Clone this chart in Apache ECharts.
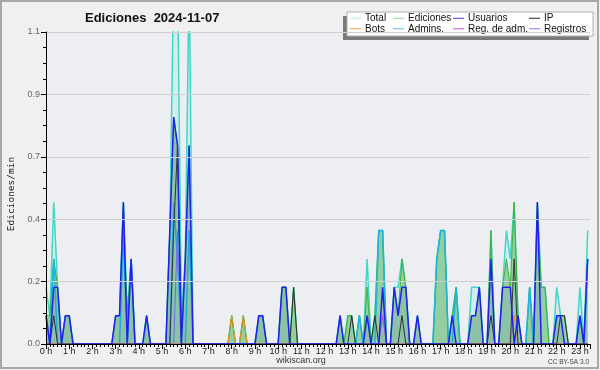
<!DOCTYPE html>
<html><head><meta charset="utf-8">
<script src="https://cdn.jsdelivr.net/npm/echarts@6/dist/echarts.min.js"></script>
<style>html,body{margin:0;padding:0;background:#f0f0f0}#c{width:600px;height:370px}</style>
</head><body><div id="c"></div>
<script>
// 10-minute bins from 0:00 (index 0) to 23:20 (index 140), values in edits/min
const hourLabels = ['0 h','1 h','2 h','3 h','4 h','5 h','6 h','7 h','8 h','9 h','10 h','11 h','12 h','13 h','14 h','15 h','16 h','17 h','18 h','19 h','20 h','21 h','22 h','23 h'];
const total = [
0.2,0.1,0.5,0.2,0,0.1, 0.1,0,0,0,0,0, 0,0,0,0,0,0, 0.1,0.1,0.5,0.1,0.3,0,
0,0,0.1,0,0,0, 0,0,0.4,1.3,1.3,0.1, 0.3,1.3,0,0,0,0, 0,0,0,0,0,0,
0.1,0,0,0.1,0,0, 0,0.1,0.1,0,0,0, 0,0.2,0.2,0,0.2,0, 0,0,0,0,0,0,
0,0,0,0,0.1,0, 0.1,0.1,0,0.1,0,0.3, 0,0.1,0.4,0.4,0,0, 0.2,0.2,0.3,0.2,0,0,
0.1,0,0,0,0,0.3, 0.4,0.4,0,0.1,0.2,0, 0,0,0.2,0.2,0.2,0, 0,0.4,0,0,0.2,0.4,
0.3,0.5,0.1,0,0,0.2, 0,0.5,0.2,0.2,0,0, 0.2,0.1,0.1,0,0,0, 0.2,0,0.4
];
const ediciones = [
0.1,0.1,0.3,0.2,0,0.1, 0.1,0,0,0,0,0, 0,0,0,0,0,0, 0.1,0.1,0.5,0.1,0.3,0,
0,0,0.1,0,0,0, 0,0,0.4,0.8,0.7,0, 0.3,0.7,0,0,0,0, 0,0,0,0,0,0,
0.1,0,0,0.1,0,0, 0,0.1,0.1,0,0,0, 0,0.2,0.2,0,0.2,0, 0,0,0,0,0,0,
0,0,0,0,0.1,0, 0.1,0.1,0,0.1,0,0.2, 0,0.1,0.4,0.4,0,0, 0.2,0.1,0.3,0.2,0,0,
0.1,0,0,0,0,0.3, 0.4,0.4,0,0.1,0.2,0, 0,0,0.1,0.1,0.2,0, 0,0.4,0,0,0.2,0.3,
0.2,0.5,0.1,0,0,0.2, 0,0.5,0.2,0.2,0,0, 0.1,0.1,0.1,0,0,0, 0.1,0,0.3
];
const usuarios = [
0.1,0,0.2,0.2,0,0.1, 0.1,0,0,0,0,0, 0,0,0,0,0,0, 0.1,0.1,0.5,0,0.3,0,
0,0,0.1,0,0,0, 0,0,0.4,0.8,0.7,0, 0.3,0.7,0,0,0,0, 0,0,0,0,0,0,
0,0,0,0,0,0, 0,0.1,0.1,0,0,0, 0,0.2,0.2,0,0,0, 0,0,0,0,0,0,
0,0,0,0,0.1,0, 0,0,0,0,0,0.1, 0,0,0,0.2,0,0, 0.2,0.1,0.2,0.2,0,0,
0.1,0,0,0,0,0, 0,0,0,0.1,0,0, 0,0,0.1,0.1,0.2,0, 0,0.3,0,0,0.2,0.2,
0.2,0,0.1,0,0,0, 0,0.5,0,0,0,0, 0.1,0.1,0,0,0,0, 0.1,0,0.3
];
const ip = [
0,0,0.1,0,0,0, 0,0,0,0,0,0, 0,0,0,0,0,0, 0,0,0,0,0,0,
0,0,0,0,0,0, 0,0,0,0.4,0.7,0, 0,0,0,0,0,0, 0,0,0,0,0,0,
0,0,0,0,0,0, 0,0,0,0,0,0, 0,0,0,0,0.2,0, 0,0,0,0,0,0,
0,0,0,0,0,0, 0,0.1,0,0,0,0, 0,0.1,0,0,0,0, 0,0,0.1,0,0,0,
0,0,0,0,0,0, 0,0,0,0,0,0, 0,0,0,0,0,0, 0,0.1,0,0,0,0,
0,0.3,0,0,0,0, 0,0,0,0,0,0, 0,0.1,0.1,0,0,0, 0,0,0
];
const bots = [
0,0,0,0,0,0, 0,0,0,0,0,0, 0,0,0,0,0,0, 0,0,0,0,0,0,
0,0,0,0,0,0, 0,0,0,0,0,0, 0,0,0,0,0,0, 0,0,0,0,0,0,
0.1,0,0,0.1,0,0, 0,0,0,0,0,0, 0,0,0,0,0,0, 0,0,0,0,0,0,
0,0,0,0,0,0, 0,0,0,0,0,0, 0,0,0,0,0,0, 0,0,0,0,0,0,
0,0,0,0,0,0, 0,0,0,0,0,0, 0,0,0,0,0,0, 0,0,0,0,0,0,
0,0.1,0,0,0,0, 0,0,0,0,0,0, 0,0,0,0,0,0, 0,0,0
];
const admins = [
0.1,0,0.3,0,0,0, 0,0,0,0,0,0, 0,0,0,0,0,0, 0,0,0.4,0,0.3,0,
0,0,0,0,0,0, 0,0,0,0.5,0.3,0, 0,0.4,0,0,0,0, 0,0,0,0,0,0,
0,0,0,0,0,0, 0,0,0,0,0,0, 0,0,0,0,0,0, 0,0,0,0,0,0,
0,0,0,0,0,0, 0,0,0,0.1,0,0, 0,0,0.4,0.4,0,0, 0,0,0,0,0,0,
0,0,0,0,0,0.3, 0.4,0.4,0,0,0.2,0, 0,0,0,0,0,0, 0,0,0,0,0,0,
0,0,0,0,0,0.2, 0,0,0,0,0,0, 0,0,0,0,0,0, 0,0,0.3
];
const regAdm = [
0,0,0,0,0,0, 0,0,0,0,0,0, 0,0,0,0,0,0, 0,0,0,0,0,0,
0,0,0,0,0,0, 0,0,0,0,0,0, 0,0,0,0,0,0, 0,0,0,0,0,0,
0,0,0,0,0,0, 0,0,0,0,0,0, 0,0,0,0,0,0, 0,0,0,0,0,0,
0,0,0,0,0,0, 0,0,0,0,0,0, 0,0,0,0.1,0,0, 0,0,0,0,0,0,
0,0,0,0,0,0, 0,0,0,0,0,0, 0,0,0,0,0,0, 0,0,0,0,0,0,
0,0,0,0,0,0, 0,0,0,0,0,0, 0,0,0,0,0,0, 0,0,0
];
const registros = [
0,0,0,0,0,0, 0,0,0,0,0,0, 0,0,0,0,0,0, 0,0,0,0,0,0,
0,0,0,0,0,0, 0,0,0,0,0.4,0, 0,0,0,0,0,0, 0,0,0,0,0,0,
0,0,0,0,0,0, 0,0,0,0,0,0, 0,0,0,0,0,0, 0,0,0,0,0,0,
0,0,0,0,0,0, 0,0,0,0,0,0, 0,0,0,0,0,0, 0,0,0,0,0,0,
0,0,0,0,0,0, 0,0,0,0,0,0, 0,0,0,0,0,0, 0,0,0,0,0,0,
0,0,0,0,0,0, 0,0,0,0,0,0, 0,0,0,0,0,0, 0,0,0
];

const chart = echarts.init(document.getElementById('c'), null, {renderer:'canvas'});
const F = 'Liberation Sans, Arial, sans-serif';
function pts(a){ return a.map((v,i)=>[i,v]); }
function line(name, data, color, width, area, z){
  const s = {name, type:'line', data:pts(data), symbol:'none', showSymbol:false, z:z,
    lineStyle:{color, width}, itemStyle:{color}, emphasis:{disabled:true}, clip:true};
  if(area) s.areaStyle = {color:area, opacity:1};
  return s;
}
const legendCommon = {orient:'vertical', top:13, padding:0, itemGap:0, itemWidth:11, itemHeight:1,
  icon:'rect', selectedMode:false, textStyle:{fontFamily:F, fontSize:10, color:'#111', lineHeight:10.5, padding:[0,0,0,-1]}};
function L(name,color){ return {name, itemStyle:{color}}; }
const option = {
  animation:false,
  backgroundColor:'#f0f0f0',
  title:{text:'Ediciones  2024-11-07', left:80, top:7, textStyle:{fontFamily:F, fontWeight:'bold', fontSize:13, color:'#111'}},
  grid:{left:46, right:10, top:32, bottom:26, show:true, backgroundColor:'#eceef1', borderWidth:0},
  legend:[
    Object.assign({left:350, data:[L('Total','#b0ecec'), L('Bots','#f0a040')]}, legendCommon),
    Object.assign({left:393, data:[L('Ediciones','#90d890'), L('Admins.','#50c8e0')]}, legendCommon),
    Object.assign({left:453, data:[L('Usuarios','#4040e0'), L('Reg. de adm.','#c050e0')]}, legendCommon),
    Object.assign({left:529, data:[L('IP','#222222'), L('Registros','#8080f0')]}, legendCommon)
  ],
  xAxis:{type:'value', min:0, max:140.6, interval:6, z:10,
    axisLine:{lineStyle:{color:'#000', width:1}},
    axisTick:{length:5, lineStyle:{color:'#000'}},
    minorTick:{show:true, splitNumber:6, length:3, lineStyle:{color:'#000'}},
    splitLine:{show:false},
    axisLabel:{showMaxLabel:false, margin:3, fontFamily:F, fontSize:9, color:'#222',
      formatter:v=>hourLabels[Math.round(v/6)] || ''}},
  yAxis:{type:'value', min:0, max:1.1, interval:0.22, z:10,
    axisLine:{show:true, lineStyle:{color:'#000'}},
    axisTick:{show:true, length:5, lineStyle:{color:'#000'}},
    minorTick:{show:true, splitNumber:4, length:3, lineStyle:{color:'#000'}},
    splitLine:{show:true, lineStyle:{color:'#cfcfcf', width:1}},
    axisLabel:{margin:6, fontFamily:F, fontSize:9, color:'#666', formatter:v=>v.toFixed(1)}},
  graphic:[
    {type:'rect', z:-10, shape:{x:1, y:1, width:597, height:367}, style:{fill:'none', stroke:'#a8a8a8', lineWidth:2}},
    {type:'rect', z:1, shape:{x:343, y:16, width:246, height:24}, style:{fill:'#7a7a7a'}},
    {type:'rect', z:1, shape:{x:347, y:12, width:246, height:24}, style:{fill:'#ffffff', stroke:'#b0b0b0', lineWidth:1}},
    {type:'text', z:5, x:12, y:194, rotation:Math.PI/2, style:{text:'Ediciones/min', fontFamily:'DejaVu Sans Mono', fontSize:9.5, fill:'#222', align:'center', verticalAlign:'middle'}},
    {type:'text', z:5, x:301, y:361, style:{text:'wikiscan.org', fontFamily:F, fontSize:9, fill:'#333', align:'center', verticalAlign:'middle'}},
    {type:'text', z:5, x:589, y:362, style:{text:'CC BY-SA 3.0', fontFamily:F, fontSize:6.5, fill:'#444', align:'right', verticalAlign:'middle'}}
  ],
  series:[
    line('Total', total, '#3fd8c8', 1.5, 'rgba(64,224,208,0.13)', 2),
    line('Ediciones', ediciones, '#3cb43c', 1, 'rgba(70,170,70,0.45)', 3),
    line('Admins.', admins, '#1eb4dc', 1.5, null, 4),
    line('Registros', registros, '#7070f0', 1, null, 5),
    line('Reg. de adm.', regAdm, '#c040e0', 1, null, 6),
    line('Bots', bots, '#f09020', 1, null, 7),
    line('IP', ip, '#303030', 1, null, 8),
    line('Usuarios', usuarios, '#2020f0', 1.5, 'rgba(40,40,240,0.07)', 9)
  ]
};
chart.setOption(option);
</script></body></html>
